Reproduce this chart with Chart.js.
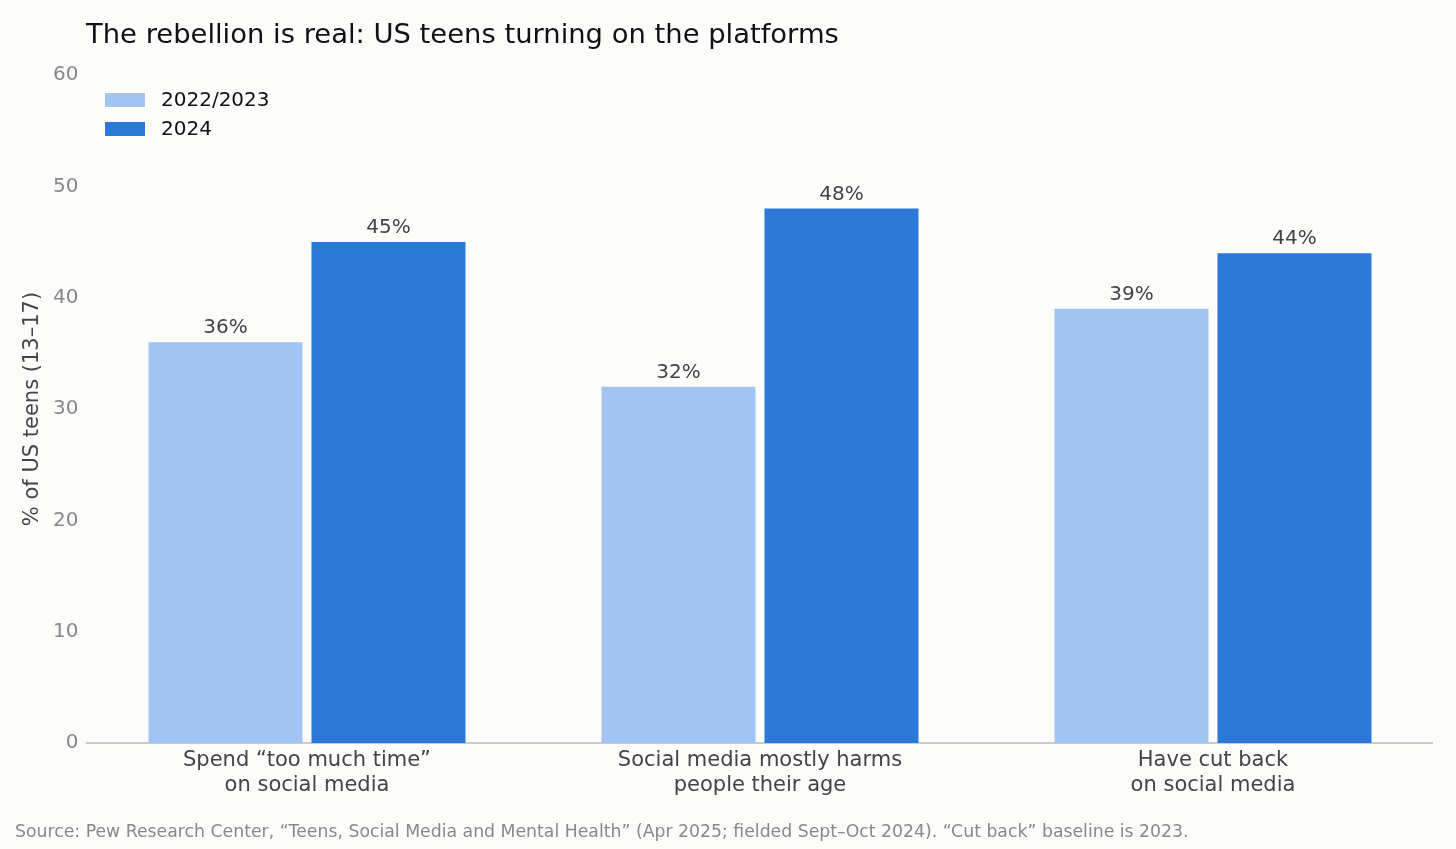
<!DOCTYPE html>
<html>
<head>
<meta charset="utf-8">
<script src="https://cdn.jsdelivr.net/npm/chart.js@4"></script>
<style>
  html, body { margin: 0; padding: 0; background: #fcfcfa; }
  #wrap { width: 1456px; height: 849px; position: relative; }
</style>
</head>
<body>
<div id="wrap"><canvas id="chart"></canvas></div>
<script>
const categories = [["Spend \u201ctoo much time\u201d", "on social media"], ["Social media mostly harms", "people their age"], ["Have cut back", "on social media"]]
const seriesNames = ["2022/2023", "2024"]
const earlier = [36, 32, 39]
const latest = [45, 48, 44]
const yTicks = [0, 10, 20, 30, 40, 50, 60]

const FONT = "'DejaVu Sans', sans-serif"
const colors = ["#a2c4f3", "#2a79d7"]

// title, legend, baseline, value labels and source note
const extras = {
    id: "extras",
    beforeDatasetsDraw(chart) {
        const ctx = chart.ctx
        const y0 = chart.scales.y.getPixelForValue(0)
        ctx.save()
        ctx.strokeStyle = "#bbbbbb"
        ctx.lineWidth = 1.5
        ctx.beginPath()
        ctx.moveTo(86, y0)
        ctx.lineTo(1433, y0)
        ctx.stroke()
        ctx.restore()
    },
    afterDraw(chart) {
        const ctx = chart.ctx
        ctx.save()
        ctx.fillStyle = "#111"
        ctx.font = "27.4px " + FONT
        ctx.textAlign = "left"
        ctx.textBaseline = "middle"
        ctx.fillText("The rebellion is real: US teens turning on the platforms", 86, 36)

        chart.data.datasets.forEach((ds, i) => {
            const y = 100 + i * 29
            ctx.fillStyle = ds.backgroundColor
            ctx.fillRect(105, y - 7, 40, 14)
            ctx.fillStyle = "#111"
            ctx.font = "20px " + FONT
            ctx.fillText(ds.label, 161, y + 1)
        })

        ctx.fillStyle = "#444"
        ctx.font = "20px " + FONT
        ctx.textAlign = "center"
        ctx.textBaseline = "bottom"
        chart.data.datasets.forEach((ds, i) => {
            chart.getDatasetMeta(i).data.forEach((bar, j) => {
                ctx.fillText(ds.data[j] + "%", bar.x, bar.y - 4)
            })
        })

        ctx.fillStyle = "#888"
        ctx.font = "17.3px " + FONT
        ctx.textAlign = "left"
        ctx.textBaseline = "middle"
        ctx.fillText("Source: Pew Research Center, \u201cTeens, Social Media and Mental Health\u201d (Apr 2025; fielded Sept\u2013Oct 2024). \u201cCut back\u201d baseline is 2023.", 15, 833)
        ctx.restore()
    }
}

new Chart(document.getElementById("chart"), {
    type: "bar",
    data: {
        labels: categories,
        datasets: [
            { label: seriesNames[0], data: earlier, backgroundColor: colors[0] },
            { label: seriesNames[1], data: latest, backgroundColor: colors[1] },
        ],
    },
    options: {
        responsive: true,
        maintainAspectRatio: false,
        animation: false,
        layout: { padding: { top: 75, right: 16.5, bottom: 0, left: 0 } },
        categoryPercentage: 0.7196,
        barPercentage: 0.945,
        plugins: { legend: { display: false }, tooltip: { enabled: false } },
        scales: {
            x: {
                grid: { display: false, drawTicks: false },
                border: { display: false },
                ticks: { color: "#444", font: { family: FONT, size: 21 }, padding: 5, maxRotation: 0 },
                afterFit(axis) { axis.height = 106 },
            },
            y: {
                min: 0,
                max: 60,
                afterBuildTicks(axis) { axis.ticks = yTicks.map((v) => ({ value: v })) },
                grid: { display: false, drawTicks: false },
                border: { display: false },
                ticks: { color: "#888", font: { family: FONT, size: 20, lineHeight: 1.4 }, padding: 2 },
                title: { display: true, text: "% of US teens (13\u201317)", color: "#444", font: { family: FONT, size: 21 }, padding: { top: 20, bottom: 0 } },
                afterFit(axis) { axis.width = 80.5 },
            },
        },
    },
    plugins: [extras],
})
</script>
</body>
</html>
